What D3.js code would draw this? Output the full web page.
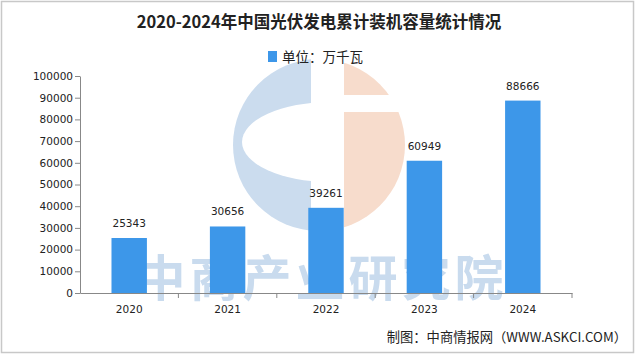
<!DOCTYPE html>
<html><head><meta charset="utf-8">
<script src="https://cdn.jsdelivr.net/npm/d3@7"></script>
<style>html,body{margin:0;padding:0;background:#fff;}svg{display:block;}</style>
</head><body>
<script>
const categories = ["2020","2021","2022","2023","2024"];
const values = [25343, 30656, 39261, 60949, 88666];
const yTicks = [0,10000,20000,30000,40000,50000,60000,70000,80000,90000,100000];
const title = "2020-2024年中国光伏发电累计装机容量统计情况";
const legendLabel = "单位：万千瓦";
const footer = "制图：中商情报网（WWW.ASKCI.COM）";
const watermark = "中商产业研究院";

const W = 640, H = 355;
const svg = d3.select("body").append("svg").attr("width", W).attr("height", H);
svg.append("rect").attr("x",0).attr("y",0).attr("width",W).attr("height",H).attr("fill","#fff");
svg.append("rect").attr("x",1.5).attr("y",1.5).attr("width",632).attr("height",351)
  .attr("fill","none").attr("stroke","#c8c8c8").attr("stroke-width",1.5);

const m = {left:80, right:68, top:76, bottom:62};
const x = d3.scaleBand().domain(categories).range([m.left, W - m.right]).paddingInner(0.64).paddingOuter(0.32);
const y = d3.scaleLinear().domain([0,100000]).range([H - m.bottom, m.top]);

// watermark logo
const cx = 319, cy = 145, r = 86;
const lg = svg.append("g");
const defs = svg.append("defs");
defs.append("clipPath").attr("id","leftHalf").append("rect").attr("x",cx-r-2).attr("y",cy-r-2).attr("width",r-8+2).attr("height",2*r+4);
defs.append("clipPath").attr("id","rightHalf").append("rect").attr("x",cx+25).attr("y",cy-r-2).attr("width",r).attr("height",2*r+4);
lg.append("circle").attr("cx",cx).attr("cy",cy).attr("r",r).attr("fill","#cbdcee").attr("clip-path","url(#leftHalf)");
lg.append("ellipse").attr("cx",cx+11).attr("cy",cy-3).attr("rx",88).attr("ry",40).attr("fill","#fff").attr("clip-path","url(#leftHalf)");
lg.append("circle").attr("cx",cx).attr("cy",cy).attr("r",r).attr("fill","#f7dccc").attr("clip-path","url(#rightHalf)");
lg.append("rect").attr("x",cx+20).attr("y",cy-50).attr("width",r).attr("height",17).attr("fill","#fff");

svg.append("text").attr("x",322).attr("y",296).attr("text-anchor","middle")
  .attr("font-family","'Noto Sans CJK SC'").attr("font-weight","bold").attr("font-size",49)
  .attr("letter-spacing",4).attr("fill","#c9dbee").text(watermark);

// title
svg.append("text").attr("x",319).attr("y",28).attr("text-anchor","middle")
  .attr("font-family","'Noto Sans CJK SC'").attr("font-weight","bold").attr("font-size",16.5)
  .attr("fill","#222").text(title);

// legend
svg.append("rect").attr("x",268).attr("y",51).attr("width",9).attr("height",11).attr("fill","#3d97e9");
svg.append("text").attr("x",282).attr("y",62).attr("font-family","'Noto Sans CJK SC'").attr("font-size",13.5)
  .attr("fill","#222").text(legendLabel);

// bars
svg.append("g").selectAll("rect").data(values).join("rect")
  .attr("x",(d,i)=>x(categories[i])).attr("width",x.bandwidth())
  .attr("y",d=>y(d)).attr("height",d=>y(0)-y(d)).attr("fill","#3d97e9");

svg.append("g").selectAll("text").data(values).join("text")
  .attr("x",(d,i)=>x(categories[i])+x.bandwidth()/2).attr("y",d=>y(d)-11)
  .attr("text-anchor","middle").attr("font-family","'DejaVu Sans'").attr("font-size",10.5)
  .attr("fill","#222").text(d=>d);

// y axis
const yAxis = d3.axisLeft(y).tickValues(yTicks).tickSize(5).tickSizeOuter(0).tickFormat(d3.format("d"));
const gy = svg.append("g").attr("transform",`translate(${m.left},0)`).call(yAxis);
gy.select(".domain").attr("stroke","#888");
gy.selectAll(".tick line").attr("stroke","#888");
gy.selectAll(".tick text").attr("font-family","'DejaVu Sans'").attr("font-size",10.5).attr("fill","#222").attr("x",-7);

// x axis
const xAxis = d3.axisBottom(x).tickSize(0).tickSizeOuter(0);
const gx = svg.append("g").attr("transform",`translate(0,${y(0)})`).call(xAxis);
gx.select(".domain").attr("stroke","#888");
gx.selectAll(".tick text").attr("font-family","'DejaVu Sans'").attr("font-size",10.5).attr("fill","#222").attr("dy","1.6em");
const step = x.step();
const bounds = categories.map((c,i)=> m.left + step*(i+1));
gx.selectAll("line.sep").data(bounds).join("line").attr("class","sep")
  .attr("x1",d=>d).attr("x2",d=>d).attr("y1",0).attr("y2",5).attr("stroke","#888");

// footer
svg.append("text").attr("x",627).attr("y",342).attr("text-anchor","end")
  .attr("font-family","'Noto Sans CJK SC'").attr("font-size",13.3).attr("fill","#222").text(footer);
</script>
</body></html>
